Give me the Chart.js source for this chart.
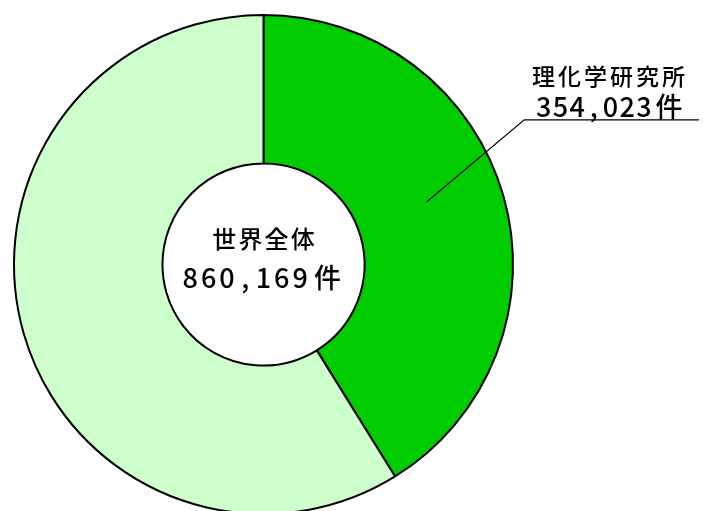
<!DOCTYPE html>
<html>
<head>
<meta charset="utf-8">
<script src="https://cdn.jsdelivr.net/npm/chart.js@4"></script>
<style>
  html, body { margin: 0; padding: 0; background: #fff; overflow: hidden; }
  #wrap { width: 703px; height: 530px; }
</style>
</head>
<body>
<div id="wrap"><canvas id="c" width="703" height="530"></canvas></div>
<script>
// ---- data ----
const categories = ["理化学研究所", "その他"];
const counts = [354023, 506146];
const totalLabel = ["世界全体", "860,169件"];
const calloutLabel = ["理化学研究所", "354,023件"];
const sliceColors = ["#00cc00", "#ccffcc"];

// draw text in monospace-like cells (half-width = 1 cell, full-width = 2 cells)
function drawMono(ctx, text, cx, cy, halfCell, fontPx) {
  const chars = [...text];
  const cells = chars.map(ch => (ch.charCodeAt(0) < 256 ? 1 : 2));
  const total = cells.reduce((a, b) => a + b, 0);
  let x = cx - total * halfCell / 2;
  ctx.font = '500 ' + fontPx + 'px "Noto Sans CJK JP", "DejaVu Sans", sans-serif';
  ctx.textAlign = "center";
  ctx.textBaseline = "middle";
  ctx.fillStyle = "#000";
  chars.forEach((ch, i) => {
    const w = cells[i] * halfCell;
    ctx.fillText(ch, x + w / 2, cy);
    x += w;
  });
}

const labelPlugin = {
  id: "labels",
  afterDraw(chart) {
    const ctx = chart.ctx;
    const arc = chart.getDatasetMeta(0).data[0];
    const cx = arc.x, cy = arc.y, R = arc.outerRadius;
    ctx.save();
    // centre text
    drawMono(ctx, totalLabel[0], cx, cy - 26, 13.1, 24);
    drawMono(ctx, totalLabel[1], cx, cy + 13, 18.3, 27);
    // callout leader line from inside the green slice
    const a0 = arc.startAngle + 0.466 * (arc.endAngle - arc.startAngle);
    const r0 = 0.70 * R;
    const p0x = cx + r0 * Math.cos(a0), p0y = cy + r0 * Math.sin(a0);
    const elbowX = cx + 1.045 * R, elbowY = cy - 0.58 * R;
    const endX = 699;
    ctx.strokeStyle = "#000";
    ctx.lineWidth = 1.2;
    ctx.beginPath();
    ctx.moveTo(p0x, p0y);
    ctx.lineTo(elbowX, elbowY);
    ctx.lineTo(endX, elbowY);
    ctx.stroke();
    // callout text
    drawMono(ctx, calloutLabel[0], 608.5, elbowY - 43.5, 13, 23);
    drawMono(ctx, calloutLabel[1], 610.5, elbowY - 13, 16.7, 27);
    ctx.restore();
  }
};

new Chart(document.getElementById("c"), {
  type: "doughnut",
  data: {
    labels: categories,
    datasets: [{
      data: counts,
      backgroundColor: sliceColors,
      borderColor: "#000",
      borderWidth: 2,
      hoverOffset: 0
    }]
  },
  options: {
    responsive: false,
    animation: false,
    cutout: "40.5%",
    rotation: 0,
    layout: { padding: { left: 13, top: 14, right: 189, bottom: 15 } },
    plugins: {
      legend: { display: false },
      tooltip: { enabled: false },
      title: { display: false }
    }
  },
  plugins: [labelPlugin]
});
</script>
</body>
</html>
